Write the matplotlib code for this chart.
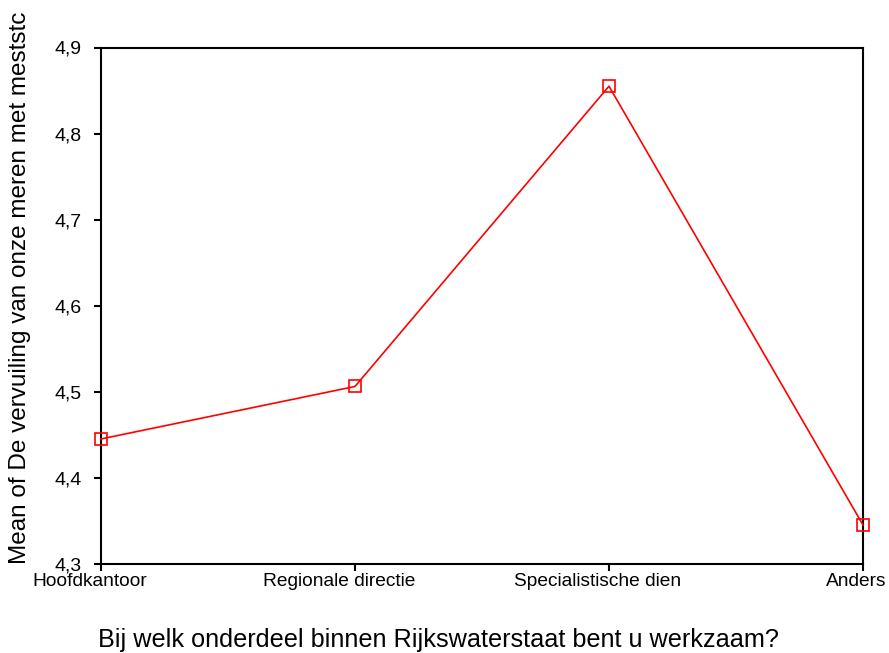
import matplotlib
matplotlib.use("Agg")
import matplotlib.pyplot as plt
import matplotlib.transforms as mtransforms

categories = ["Hoofdkantoor", "Regionale directie", "Specialistische dien", "Anders"]
means = [4.445, 4.506, 4.855, 4.345]
yticks = [4.3, 4.4, 4.5, 4.6, 4.7, 4.8, 4.9]
ytick_labels = ["4,3", "4,4", "4,5", "4,6", "4,7", "4,8", "4,9"]

plt.rcParams['font.family'] = ['Liberation Sans', 'DejaVu Sans']

W, H = 889, 653
fig = plt.figure(figsize=(W / 100, H / 100), dpi=100)
ax = fig.add_axes([101 / W, 1 - 563.7 / H, (863 - 101) / W, (563.7 - 47.5) / H])

x = list(range(len(categories)))
ax.plot(x, means, color="red", lw=1.2, marker="s", markersize=9,
        markerfacecolor="none", markeredgecolor="red", markeredgewidth=1.2,
        clip_on=False, zorder=5)

ax.set_xlim(0, len(categories) - 1)
ax.set_ylim(4.3, 4.9)
ax.set_yticks(yticks)
ax.set_yticklabels(ytick_labels, fontsize=14)
ax.set_xticks(x)
ax.set_xticklabels([])

shift = [-11, -16, -11, -7]
trans = mtransforms.blended_transform_factory(ax.transData, ax.transAxes)
for xi, lab, dx in zip(x, categories, shift):
    off = mtransforms.ScaledTranslation(dx / 100, -9 / 100, fig.dpi_scale_trans)
    ax.text(xi, 0, lab, transform=trans + off, ha="center", va="top",
            fontsize=13.8, clip_on=False)

ax.tick_params(axis="both", direction="out", length=5, width=1.5, color="black")
ax.tick_params(axis="y", pad=9)
for s in ax.spines.values():
    s.set_linewidth(1.5)
    s.set_color("black")

fig.text(438 / W, 1 - 640 / H, "Bij welk onderdeel binnen Rijkswaterstaat bent u werkzaam?",
         ha="center", va="center", fontsize=18.2)
fig.text(20 / W, 1 - 564 / H, "Mean of De vervuiling van onze meren met meststc",
         rotation=90, ha="center", va="bottom", fontsize=17.5)

fig.savefig("out.png", dpi=100)
